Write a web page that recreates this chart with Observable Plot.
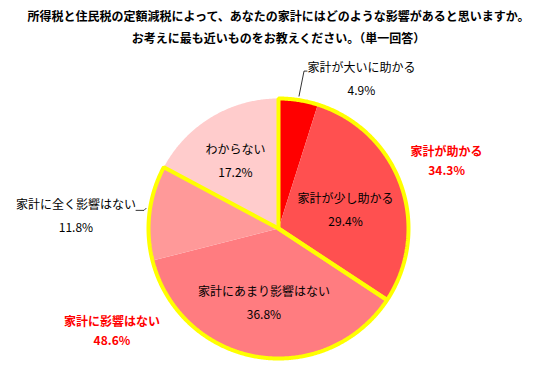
<!DOCTYPE html>
<html><head><meta charset="utf-8">
<script src="https://cdn.jsdelivr.net/npm/d3@7"></script>
<script src="https://cdn.jsdelivr.net/npm/@observablehq/plot@0.6"></script>
<style>body{margin:0;background:#fff;} svg{font-family:"Noto Sans CJK JP",sans-serif;}</style>
</head><body><div id="chart"></div><script>
const titleLines = ["所得税と住民税の定額減税によって、あなたの家計にはどのような影響があると思いますか。", "お考えに最も近いものをお教えください。（単一回答）"];
const categories = ["家計が大いに助かる", "家計が少し助かる", "家計にあまり影響はない", "家計に全く影響はない", "わからない"];
const values = [4.9, 29.4, 36.8, 11.8, 17.2];
const sliceColors = ["#FF0000", "#FF5050", "#FF7C80", "#FF9999", "#FFCCCC"];
const groupNames = ["家計が助かる", "家計に影響はない"];
const groupValues = [34.3, 48.6];
const groupMembers = [[0, 1], [2, 3]];

// layout (polar: degrees clockwise from top, radius px)
const W = 545, H = 370, cx = 278, cy = 228, R = 130;
const sliceLabelPolar = [[29.1, 170.6], [75.0, 69.4], [190.9, 76.9], [273.4, 202.9], [327.1, 79.2]];
const groupLabelPolar = [[68.3, 180.9], [238.3, 195.8]];

const total = d3.sum(values);
const rad = d => d * Math.PI / 180;
const polar = (a, r) => ({x: cx + r * Math.sin(a), y: cy - r * Math.cos(a)});
let acc = 0;
const slices = values.map((v, i) => { const s = acc; acc += v; return {i, a0: s / total * 2 * Math.PI, a1: acc / total * 2 * Math.PI}; });
function wedge(a0, a1, extra) {
  const pts = [{x: cx, y: cy, ...extra}];
  const n = Math.max(2, Math.ceil((a1 - a0) / (Math.PI / 360)));
  for (let k = 0; k <= n; k++) { const p = polar(a0 + (a1 - a0) * k / n, R); pts.push({...p, ...extra}); }
  return pts;
}
const slicePts = slices.flatMap(s => wedge(s.a0, s.a1, {key: categories[s.i], color: sliceColors[s.i]}));
const groupPts = groupMembers.flatMap((m, g) => wedge(slices[m[0]].a0, slices[m[m.length - 1]].a1, {key: groupNames[g]}));

const sliceLabels = [];
slices.forEach(s => {
  const [deg, r] = sliceLabelPolar[s.i];
  const p = polar(rad(deg), r);
  sliceLabels.push({x: p.x, y: p.y - 11.5, t: categories[s.i]});
  sliceLabels.push({x: p.x, y: p.y + 11.5, t: values[s.i].toFixed(1) + "%"});
});
const groupLabels = [];
groupNames.forEach((g, i) => {
  const [deg, r] = groupLabelPolar[i];
  const p = polar(rad(deg), r);
  groupLabels.push({x: p.x, y: p.y - 9.5, t: g});
  groupLabels.push({x: p.x, y: p.y + 9.5, t: groupValues[i].toFixed(1) + "%"});
});

// leader lines for small outside labels
const mid = i => (slices[i].a0 + slices[i].a1) / 2;
const l0 = polar(mid(0), R + 4);
const l3 = polar(mid(3) + 0.03, R + 4);
const leaders = [
  {key: "a", x: l0.x, y: l0.y}, {key: "a", x: l0.x + 5, y: l0.y - 25}, {key: "a", x: l0.x + 8, y: l0.y - 25},
  {key: "b", x: l3.x, y: l3.y}, {key: "b", x: l3.x - 2, y: l3.y + 2}, {key: "b", x: l3.x - 10, y: l3.y + 2}
];

const titles = titleLines.map((t, i) => ({t, y: 17 + i * 22}));

const chart = Plot.plot({
  width: W, height: H, margin: 0,
  x: {domain: [0, W], range: [0, W], axis: null},
  y: {domain: [0, H], range: [0, H], axis: null},
  style: {fontFamily: '"Noto Sans CJK JP", sans-serif', background: "#fff"},
  marks: [
    Plot.line(slicePts, {x: "x", y: "y", z: "key", fill: "color", stroke: "none", curve: "linear-closed"}),
    Plot.line(groupPts, {x: "x", y: "y", z: "key", fill: "none", stroke: "#FFFF00", strokeWidth: 4, strokeLinejoin: "miter", curve: "linear-closed"}),
    Plot.line(leaders, {x: "x", y: "y", z: "key", stroke: "#000", strokeWidth: 0.8}),
    Plot.text(sliceLabels, {x: "x", y: "y", text: "t", fill: "#000", fontSize: 12}),
    Plot.text(groupLabels, {x: "x", y: "y", text: "t", fill: "#FF0000", fontWeight: "bold", fontSize: 12}),
    Plot.text(titles, {x: 278, y: "y", text: "t", fill: "#000", fontWeight: "bold", fontSize: 12})
  ]
});
document.getElementById("chart").appendChild(chart);
</script></body></html>
